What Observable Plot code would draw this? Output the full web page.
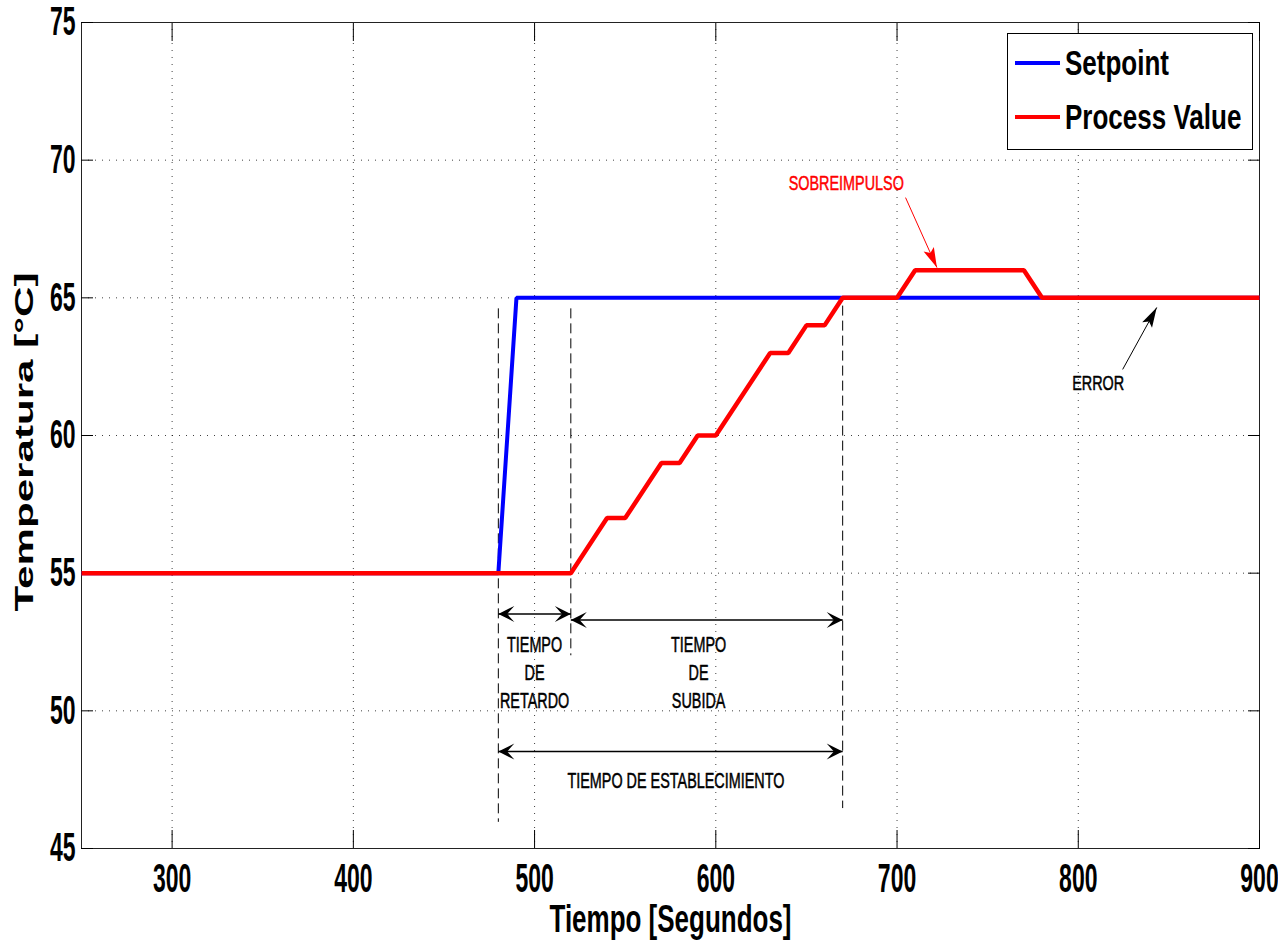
<!DOCTYPE html>
<html>
<head>
<meta charset="utf-8">
<script src="https://cdn.jsdelivr.net/npm/d3@7"></script>
<script src="https://cdn.jsdelivr.net/npm/@observablehq/plot@0.6"></script>
<style>
  body { margin: 0; background: #fff; }
  #wrap { position: relative; width: 1278px; height: 944px; }
  #legend {
    position: absolute; left: 1007px; top: 33px; width: 246px; height: 117px;
    border: 1px solid #000; background: #fff; box-sizing: border-box;
    font-family: "Liberation Sans", Arial, Helvetica, sans-serif; font-weight: bold; font-size: 26px; color: #000;
  }
  .item { position: absolute; left: 7px; height: 30px; display: flex; align-items: center; }
  .sw { width: 45px; height: 4px; margin-right: 5px; }
  .lbl { display: inline-block; transform: scaleY(1.34); line-height: 1; }
</style>
</head>
<body>
<div id="wrap">
  <div id="chart"></div>
  <div id="legend">
    <div class="item" style="top:14px"><div class="sw" style="background:#0000ff"></div><span class="lbl">Setpoint</span></div>
    <div class="item" style="top:68px"><div class="sw" style="background:#ff0000"></div><span class="lbl">Process Value</span></div>
  </div>
</div>
<script>
// ---- data ----
const spTime = [250, 480, 490, 900];
const spTemp = [55, 55, 65, 65];
const pvTime = [250, 520, 540, 550, 570, 580, 590, 600, 630, 640, 650, 660, 670, 700, 710, 770, 780, 900];
const pvTemp = [55, 55, 57, 57, 59, 59, 60, 60, 63, 63, 64, 64, 65, 65, 66, 66, 65, 65];
const xTicks = [300, 400, 500, 600, 700, 800, 900];
const yTicks = [45, 50, 55, 60, 65, 70, 75];
const xTitle = "Tiempo [Segundos]";
const yTitle = "Temperatura [°C]";

// annotation: dashed markers
const markerTime = [480, 520, 670];
const markerTop = [64.6, 64.6, 64.7];
const markerBottom = [45.95, 52.0, 46.45];
// annotation: double arrows
const spanStart = [480, 520, 480];
const spanEnd = [520, 670, 670];
const spanLevel = [53.52, 53.3, 48.52];
const spanLabels = ["TIEMPO\nDE\nRETARDO", "TIEMPO\nDE\nSUBIDA", "TIEMPO DE ESTABLECIMIENTO"];
const spanLabelX = [500, 590.5, 578];
const spanLabelY = [51.46, 51.46, 47.54];
// annotation: callouts
const calloutText = ["SOBREIMPULSO", "ERROR"];
const calloutColor = ["#ff0000", "#000000"];
const calloutTextX = [672, 811];
const calloutTextY = [69.17, 61.9];
const calloutFromX = [704.7, 824.5];
const calloutFromY = [68.64, 62.4];
const calloutToX = [722, 843.3];
const calloutToY = [66.1, 64.65];

// ---- layout ----
const W = 1278, H = 944, mL = 81, mR = 19, mT = 22, mB = 96;
const xDomain = [250, 900], yDomain = [45, 75];
const sx = d3.scaleLinear(xDomain, [mL, W - mR]);
const sy = d3.scaleLinear(yDomain, [H - mB, mT]);
const angle = (x1, y1, x2, y2) => Math.atan2(sx(x2) - sx(x1), -(sy(y2) - sy(y1))) * 180 / Math.PI;

const sp = spTime.map((t, i) => ({t, v: spTemp[i]}));
const pv = pvTime.map((t, i) => ({t, v: pvTemp[i]}));
const markers = markerTime.map((x, i) => ({x, top: markerTop[i], bottom: markerBottom[i]}));
const spans = spanStart.map((x1, i) => ({x1, x2: spanEnd[i], y: spanLevel[i]}));
const spanHeads = spans.flatMap(s => [
  {x: s.x1, y: s.y, r: -90},
  {x: s.x2, y: s.y, r: 90}
]);
const spanText = spanLabels.map((text, i) => ({text, x: spanLabelX[i], y: spanLabelY[i]}));
const callouts = calloutText.map((text, i) => ({
  text, color: calloutColor[i], tx: calloutTextX[i], ty: calloutTextY[i],
  fx: calloutFromX[i], fy: calloutFromY[i], ex: calloutToX[i], ey: calloutToY[i],
  r: angle(calloutFromX[i], calloutFromY[i], calloutToX[i], calloutToY[i])
}));

const chevron = {draw(ctx, l) { const w = l * 0.5; ctx.moveTo(0, -l); ctx.lineTo(w, 0); ctx.lineTo(0, -l * 0.45); ctx.lineTo(-w, 0); ctx.closePath(); }};
const dart = {draw(ctx, l) { const w = l * 0.28; ctx.moveTo(0, -l); ctx.lineTo(w, 0); ctx.lineTo(0, -l * 0.2); ctx.lineTo(-w, 0); ctx.closePath(); }};

const font = '"Liberation Sans", Arial, Helvetica, sans-serif';
const gridStyle = {stroke: "#000", strokeOpacity: 0.75, strokeDasharray: "1,6"};
const lineStyle = {strokeLinejoin: "miter", strokeLinecap: "butt"};

const calloutMarks = callouts.flatMap((c) => [
  Plot.link([c], {x1: "fx", y1: "fy", x2: "ex", y2: "ey", stroke: c.color, strokeWidth: 1}),
  Plot.vector([c], {x: "ex", y: "ey", rotate: "r", length: 20, anchor: "end", shape: dart, fill: c.color, stroke: "none"}),
  Plot.text([c], {x: "tx", y: "ty", text: "text", fill: c.color, stroke: c.color, strokeWidth: 0.35, fontSize: 14.4})
]);

const svg = Plot.plot({
  width: W, height: H,
  marginLeft: mL, marginRight: mR, marginTop: mT, marginBottom: mB,
  style: {fontFamily: font, background: "#fff", color: "#000"},
  x: {domain: xDomain, label: null},
  y: {domain: yDomain, label: null},
  marks: [
    Plot.gridX(xTicks, gridStyle),
    Plot.gridY(yTicks.filter(v => v > 45 && v < 75), gridStyle),
    Plot.frame({stroke: "#222"}),
    Plot.axisX(xTicks, {anchor: "bottom", tickSize: -18, tickPadding: 33, fontSize: 23, fontWeight: "bold", label: null}),
    Plot.axisX(xTicks, {anchor: "top", tickSize: -18, tickFormat: () => "", label: null}),
    Plot.axisY(yTicks, {anchor: "left", tickSize: -12, tickPadding: 18, fontSize: 23, fontWeight: "bold", label: null}),
    Plot.axisY(yTicks, {anchor: "right", tickSize: -12, tickFormat: () => "", label: null}),
    Plot.ruleX(markers, {x: "x", y1: "top", y2: "bottom", stroke: "#000", strokeWidth: 1, strokeDasharray: "10,5"}),
    Plot.line(sp, {x: "t", y: "v", stroke: "#0000ff", strokeWidth: 4, ...lineStyle}),
    Plot.line(pv, {x: "t", y: "v", stroke: "#ff0000", strokeWidth: 4.5, ...lineStyle}),
    Plot.link(spans, {x1: "x1", x2: "x2", y1: "y", y2: "y", stroke: "#000", strokeWidth: 1.5}),
    Plot.vector(spanHeads, {x: "x", y: "y", rotate: "r", length: 16, anchor: "end", shape: chevron, fill: "#000", stroke: "none"}),
    Plot.text(spanText, {x: "x", y: "y", text: "text", fontSize: 14.4, lineHeight: 1.3, fill: "#000", stroke: "#000", strokeWidth: 0.35}),
    ...calloutMarks,
    Plot.text([xTitle], {frameAnchor: "bottom", textAnchor: "middle", lineAnchor: "middle", dy: 71, fontSize: 26, fontWeight: "bold"}),
    Plot.text([yTitle], {frameAnchor: "left", textAnchor: "middle", lineAnchor: "middle", dx: -57, dy: 6.5, rotate: -90, fontSize: 26, fontWeight: "bold"})
  ]
});

function addScale(t, kx, ky) {
  t.setAttribute("transform", (t.getAttribute("transform") || "") + ` scale(${kx},${ky})`);
}
svg.querySelectorAll('g[aria-label="x-axis tick label"] text, g[aria-label="y-axis tick label"] text')
  .forEach(t => addScale(t, 1, 1.75));
const flatSpan = spanLabels.map(s => s.replace(/\n/g, ""));
svg.querySelectorAll("text").forEach(t => {
  const s = t.textContent;
  if (calloutText.includes(s)) addScale(t, 1, 1.45);
  else if (flatSpan.includes(s)) addScale(t, 1, 1.5);
  else if (s === xTitle) addScale(t, 1, 1.5);
  else if (s === yTitle) addScale(t, 1.62, 1);
});

document.getElementById("chart").appendChild(svg);
</script>
</body>
</html>
